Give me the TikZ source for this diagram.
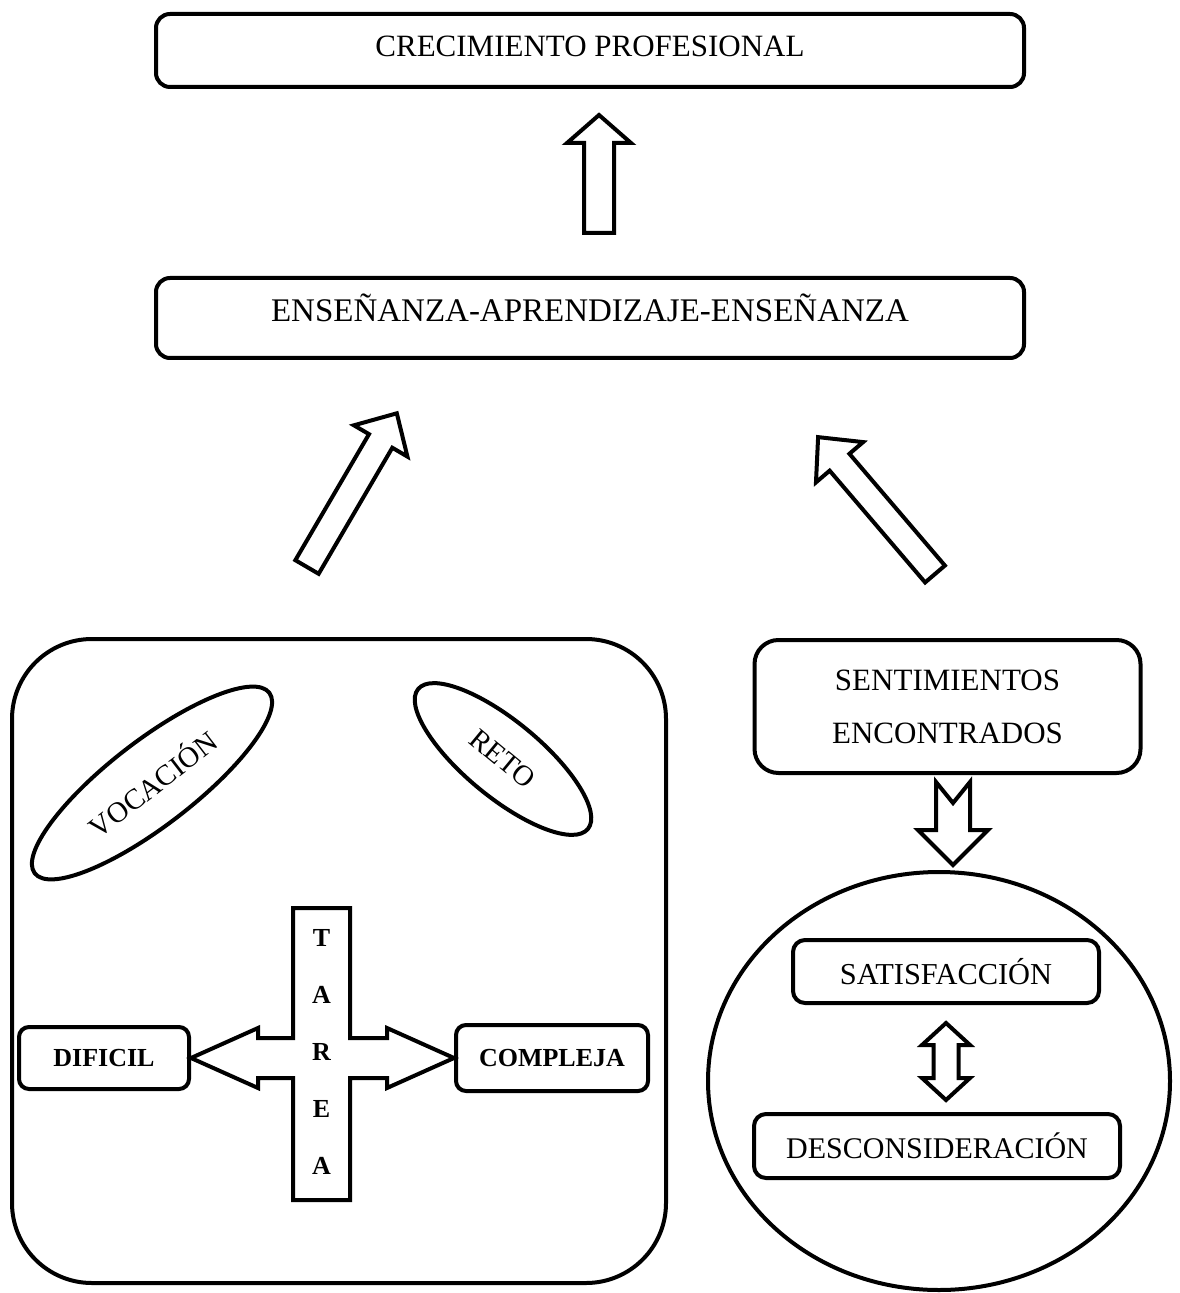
\documentclass[tikz,border=0pt]{standalone}
\usepackage{fontspec}
\setmainfont{Liberation Serif}
\usepackage{tikz}
\usetikzlibrary{positioning}
\usetikzlibrary{shapes.geometric}
\tikzset{
	caja/.style   = {shape=rectangle, draw, line width=2pt,
		align=center, fill=white, rounded corners=7pt},
	ovalo/.style  = {shape=ellipse, draw, line width=2pt, inner sep=0pt},
	bloque/.style = {draw, line width=2pt, fill=white},
	% flecha gruesa: largo/medio cuerpo/media cabeza/largo cabeza
	pics/flecha/.style args = {#1/#2/#3/#4}{code={
		\draw[bloque] (0,#2) -- ({#1-#4},#2) -- ({#1-#4},#3) -- (#1,0)
			-- ({#1-#4},-#3) -- ({#1-#4},-#2) -- (0,-#2) -- cycle;}},
	pics/muesca/.style args = {#1/#2/#3/#4/#5}{code={
		\draw[bloque] (0,#2) -- (#5,0) -- (0,-#2) -- ({#1-#4},-#2) -- ({#1-#4},-#3)
			-- (#1,0) -- ({#1-#4},#3) -- ({#1-#4},#2) -- cycle;}},
	pics/dobleflecha/.style args = {#1/#2/#3/#4}{code={
		\draw[bloque] (0,0) -- (#4,#3) -- (#4,#2) -- ({#1-#4},#2) -- ({#1-#4},#3)
			-- (#1,0) -- ({#1-#4},-#3) -- ({#1-#4},-#2) -- (#4,-#2) -- (#4,-#3) -- cycle;}}
}
\begin{document}
\begin{tikzpicture}[x=0.5pt, y=-0.5pt]
\useasboundingbox (0,0) rectangle (1179,1293);

% parte de arriba
\node [caja, minimum width=434pt, inner ysep=0pt, text height=21.5pt, text depth=15pt,
	anchor=base, font=\fontsize{15.5}{18}\selectfont] (creci) at (590,57) {CRECIMIENTO PROFESIONAL};
\node [caja, minimum width=434pt, inner ysep=0pt, text height=22pt, text depth=18pt,
	anchor=base, font=\fontsize{16.5}{19}\selectfont] (ensen) at (590,322) {ENSEÑANZA-APRENDIZAJE-ENSEÑANZA};

\pic [rotate=90]    at (599,233) {flecha=118/15/32/28};
\pic [rotate=59.7]  at (307,567) {flecha=178/13.5/31/32};
\pic [rotate=130.5] at (935,574) {flecha=180/13/31/33};

% recuadro izquierdo
\node [caja, rounded corners=40pt, minimum width=327pt, minimum height=322pt] (marco) at (339,961) {};
\node [ovalo, rotate=37.6, minimum width=148pt, minimum height=42.5pt,
	font=\fontsize{14.5}{16}\selectfont] (vocacion) at (152,783) {VOCACIÓN};
\node [ovalo, rotate=-39.5, minimum width=110pt, minimum height=38pt,
	font=\fontsize{14.5}{16}\selectfont] (reto) at (503,759) {RETO};

\node [caja, rounded corners=5pt, minimum width=85pt, minimum height=31pt,
	font=\fontsize{13}{15}\selectfont\bfseries] (dificil) at (104,1058) {DIFICIL};
\node [caja, rounded corners=5pt, minimum width=96pt, minimum height=33pt,
	font=\fontsize{13}{15}\selectfont\bfseries] (compleja) at (552,1058) {COMPLEJA};

\draw[bloque] (dificil.east) -- (258,1028) -- (258,1038) -- (293,1038) -- (293,908)
	-- (350,908) -- (350,1038) -- (387,1038) -- (387,1028) -- (compleja.west)
	-- (387,1088) -- (387,1078) -- (350,1078) -- (350,1200) -- (293,1200)
	-- (293,1078) -- (258,1078) -- (258,1088) -- cycle;
\node [align=center, font=\fontsize{13}{28.5}\selectfont\bfseries] (tarea) at (321.5,1052) {T\\A\\R\\E\\A};

% lado derecho
\node [caja, rounded corners=12pt, minimum width=193pt, minimum height=66.5pt,
	font=\fontsize{15.5}{26.5}\selectfont] (senti) at (947.5,706.5) {SENTIMIENTOS\\ENCONTRADOS};

\node [ovalo, minimum width=231pt, minimum height=209pt] (circulo) at (939,1081) {};
\pic [rotate=-90] at (953,782) {muesca=83/17/35/35/21};

\node [caja, rounded corners=6pt, minimum width=153pt, minimum height=31.5pt,
	font=\fontsize{15.2}{18}\selectfont] (satis) at (946,971.5) {SATISFACCIÓN};
\node [caja, rounded corners=6pt, minimum width=183pt, minimum height=32pt,
	font=\fontsize{15}{18}\selectfont] (descon) at (937,1146) {DESCONSIDERACIÓN};
\pic [rotate=-90] at (946,1023) {dobleflecha=77/12.5/24/22};

\end{tikzpicture}
\end{document}
